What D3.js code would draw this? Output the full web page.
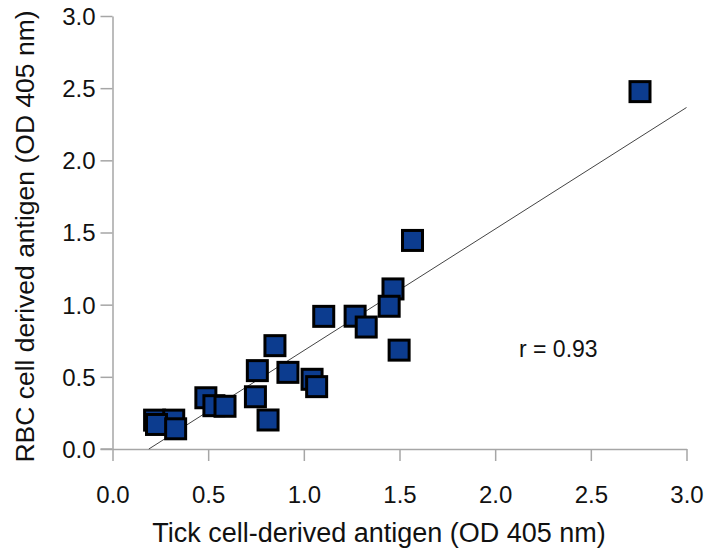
<!DOCTYPE html>
<html>
<head>
<meta charset="utf-8">
<script src="https://cdn.jsdelivr.net/npm/d3@7"></script>
<style>
  html, body { margin: 0; padding: 0; background: #fff; }
  svg { display: block; font-family: Arial, "Liberation Sans", sans-serif; }
</style>
</head>
<body>
<script>
// Tick cell antigen (x) vs RBC antigen (y), OD 405 nm
const tickOD = [2.757, 1.568, 1.466, 1.446, 1.268, 1.104, 1.326, 0.849, 1.498, 0.757, 0.917, 1.043, 1.067, 0.747, 0.488, 0.530, 0.588, 0.22, 0.32, 0.23, 0.813, 0.33];
const rbcOD  = [2.476, 1.445, 1.109, 0.989, 0.920, 0.919, 0.845, 0.716, 0.685, 0.543, 0.531, 0.483, 0.432, 0.362, 0.355, 0.300, 0.296, 0.20, 0.20, 0.17, 0.201, 0.14];

// Least-squares fit line
const fitSlope = 0.842;
const fitIntercept = -0.16;
const rLabel = "r = 0.93";

const axisTicks = [0, 0.5, 1.0, 1.5, 2.0, 2.5, 3.0];
const xTitle = "Tick cell-derived antigen (OD 405 nm)";
const yTitle = "RBC cell derived antigen (OD 405 nm)";

const W = 704, H = 557;
const svg = d3.select("body").append("svg").attr("width", W).attr("height", H);

const x = d3.scaleLinear().domain([0, 3]).range([112.5, 686.5]);
const y = d3.scaleLinear().domain([0, 3]).range([449, 16]);

const axisColor = "#a6a6a6";
const fmt = d3.format(".1f");

const gx = svg.append("g").attr("transform", `translate(0,${y(0)})`)
  .call(d3.axisBottom(x).tickValues(axisTicks).tickFormat(fmt).tickSize(12).tickSizeOuter(0));
const gy = svg.append("g").attr("transform", `translate(${x(0)},0)`)
  .call(d3.axisLeft(y).tickValues(axisTicks).tickFormat(fmt).tickSize(12).tickSizeOuter(0));

[gx, gy].forEach(g => {
  g.select(".domain").attr("stroke", axisColor).attr("stroke-width", 1.5);
  g.selectAll(".tick line").attr("stroke", axisColor).attr("stroke-width", 1.5);
  g.selectAll(".tick text").attr("fill", "#111").attr("font-size", 24)
    .attr("font-family", "Arial, 'Liberation Sans', sans-serif");
});
gx.selectAll(".tick text").attr("dy", null).attr("y", 54);
gy.selectAll(".tick text").attr("x", -17).attr("dy", "0.35em");

// extend the x-axis line to meet the left tick at zero
svg.append("line")
  .attr("x1", x(0) - 12).attr("x2", x(0))
  .attr("y1", y(0)).attr("y2", y(0))
  .attr("stroke", axisColor).attr("stroke-width", 1.5);

// regression line, from where it crosses zero up to the right edge
const fitX0 = -fitIntercept / fitSlope;
svg.append("line")
  .attr("x1", x(fitX0)).attr("y1", y(0))
  .attr("x2", x(3)).attr("y2", y(fitSlope * 3 + fitIntercept))
  .attr("stroke", "#444").attr("stroke-width", 1);

// points
const pts = tickOD.map((v, i) => ({ tx: v, ry: rbcOD[i] }));
const side = 20;
svg.append("g").selectAll("rect").data(pts).join("rect")
  .attr("x", d => x(d.tx) - side / 2)
  .attr("y", d => y(d.ry) - side / 2)
  .attr("width", side).attr("height", side)
  .attr("fill", "#0c3c8f").attr("stroke", "#000").attr("stroke-width", 3);

svg.append("text")
  .attr("x", 519).attr("y", 357)
  .attr("font-size", 23).attr("fill", "#111")
  .text(rLabel);

svg.append("text")
  .attr("x", 379).attr("y", 542)
  .attr("text-anchor", "middle").attr("font-size", 27).attr("fill", "#111")
  .text(xTitle);

svg.append("text")
  .attr("transform", `translate(34,${(y(0) + y(3)) / 2 + 4}) rotate(-90)`)
  .attr("text-anchor", "middle").attr("font-size", 26.5).attr("fill", "#111")
  .text(yTitle);
</script>
</body>
</html>
